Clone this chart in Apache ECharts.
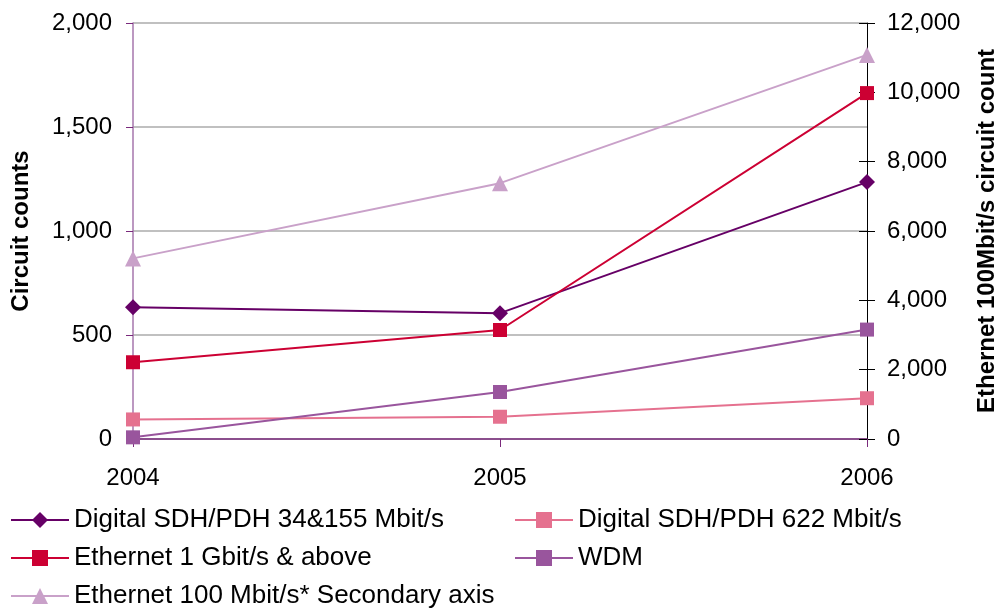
<!DOCTYPE html>
<html>
<head>
<meta charset="utf-8">
<script src="https://cdn.jsdelivr.net/npm/echarts@6/dist/echarts.min.js"></script>
<style>
  html, body { margin: 0; padding: 0; background: #fff; }
  #chart { width: 998px; height: 611px; }
</style>
</head>
<body>
<div id="chart"></div>
<script>
// Circuit counts by year, left axis; Ethernet 100 Mbit/s on the secondary axis
const years = ['2004', '2005', '2006'];
const sdh34155 = [633, 605, 1235];
const sdh622 = [94, 107, 196];
const eth1g = [369, 524, 1663];
const wdm = [8, 226, 526];
const eth100 = [5210, 7380, 11080];

const leftTicks = { min: 0, max: 2000, interval: 500 };
const rightTicks = { min: 0, max: 12000, interval: 2000 };

const fmt = v => String(v).replace(/\B(?=(\d{3})+(?!\d))/g, ',');
const FONT = 'Liberation Sans, Arial, sans-serif';

const chart = echarts.init(document.getElementById('chart'));

function lineSeries(name, data, color, symbol, yAxisIndex, size) {
  return {
    name, type: 'line', data, yAxisIndex,
    symbol, symbolSize: size,
    lineStyle: { color, width: 2 },
    itemStyle: { color },
    emphasis: { disabled: true },
    animation: false
  };
}

const legendText = { fontFamily: FONT, fontSize: 26, color: '#000' };
const axisLabelText = { fontFamily: FONT, fontSize: 24, color: '#000' };
const titleText = { fontFamily: FONT, fontSize: 24, fontWeight: 'bold', color: '#000' };

const legendBase = {
  orient: 'vertical', top: 507, height: 120, itemGap: 12, padding: 0,
  itemWidth: 58, itemHeight: 20, itemSymbolSize: 14,
  textStyle: legendText
};

chart.setOption({
  animation: false,
  grid: { left: 133, right: 131, top: 23, bottom: 172, outerBoundsMode: 'none', containLabel: false },
  legend: [
    {
      ...legendBase, left: 10,
      data: ['Digital SDH/PDH 34&155 Mbit/s', 'Ethernet 1 Gbit/s & above', 'Ethernet 100 Mbit/s* Secondary axis']
    },
    {
      ...legendBase, left: 514,
      data: ['Digital SDH/PDH 622 Mbit/s', 'WDM']
    }
  ],
  xAxis: {
    type: 'category', data: years, boundaryGap: false,
    axisLine: { lineStyle: { color: '#7a2a7c', width: 1.5 } },
    axisTick: { show: true, length: 8, alignWithLabel: true, lineStyle: { color: '#7a2a7c' } },
    axisLabel: { ...axisLabelText, margin: 27 },
    splitLine: { show: false }
  },
  yAxis: [
    {
      type: 'value', position: 'left', ...leftTicks,
      name: 'Circuit counts', nameLocation: 'middle', nameGap: 100, nameRotate: 90,
      nameTextStyle: titleText,
      axisLine: { show: true, lineStyle: { color: '#a676ad', width: 1.5 } },
      axisTick: { show: true, length: 7, lineStyle: { color: '#7a2a7c' } },
      axisLabel: { ...axisLabelText, margin: 21, formatter: fmt },
      splitLine: { show: true, lineStyle: { color: '#c0c0c0', width: 2 } }
    },
    {
      type: 'value', position: 'right', ...rightTicks,
      name: 'Ethernet 100Mbit/s circuit count', nameLocation: 'middle', nameGap: 108, nameRotate: 90,
      nameTextStyle: titleText,
      axisLine: { show: true, lineStyle: { color: '#000', width: 1 } },
      axisTick: { show: true, length: 8, lineStyle: { color: '#000' } },
      axisLabel: { ...axisLabelText, margin: 20, formatter: fmt },
      splitLine: { show: false }
    },
    {
      // inner half of the crossing ticks on the secondary axis
      type: 'value', position: 'right', ...rightTicks,
      axisLine: { show: false },
      axisTick: { show: true, inside: true, length: 8, lineStyle: { color: '#000' } },
      axisLabel: { show: false },
      splitLine: { show: false }
    }
  ],
  series: [
    lineSeries('Digital SDH/PDH 34&155 Mbit/s', sdh34155, '#660066', 'diamond', 0, 16),
    lineSeries('Digital SDH/PDH 622 Mbit/s', sdh622, '#e5718f', 'rect', 0, 14),
    lineSeries('Ethernet 1 Gbit/s & above', eth1g, '#cc0033', 'rect', 0, 14),
    lineSeries('WDM', wdm, '#99559d', 'rect', 0, 14),
    lineSeries('Ethernet 100 Mbit/s* Secondary axis', eth100, '#c9a1c9', 'triangle', 1, 16)
  ]
});
</script>
</body>
</html>
